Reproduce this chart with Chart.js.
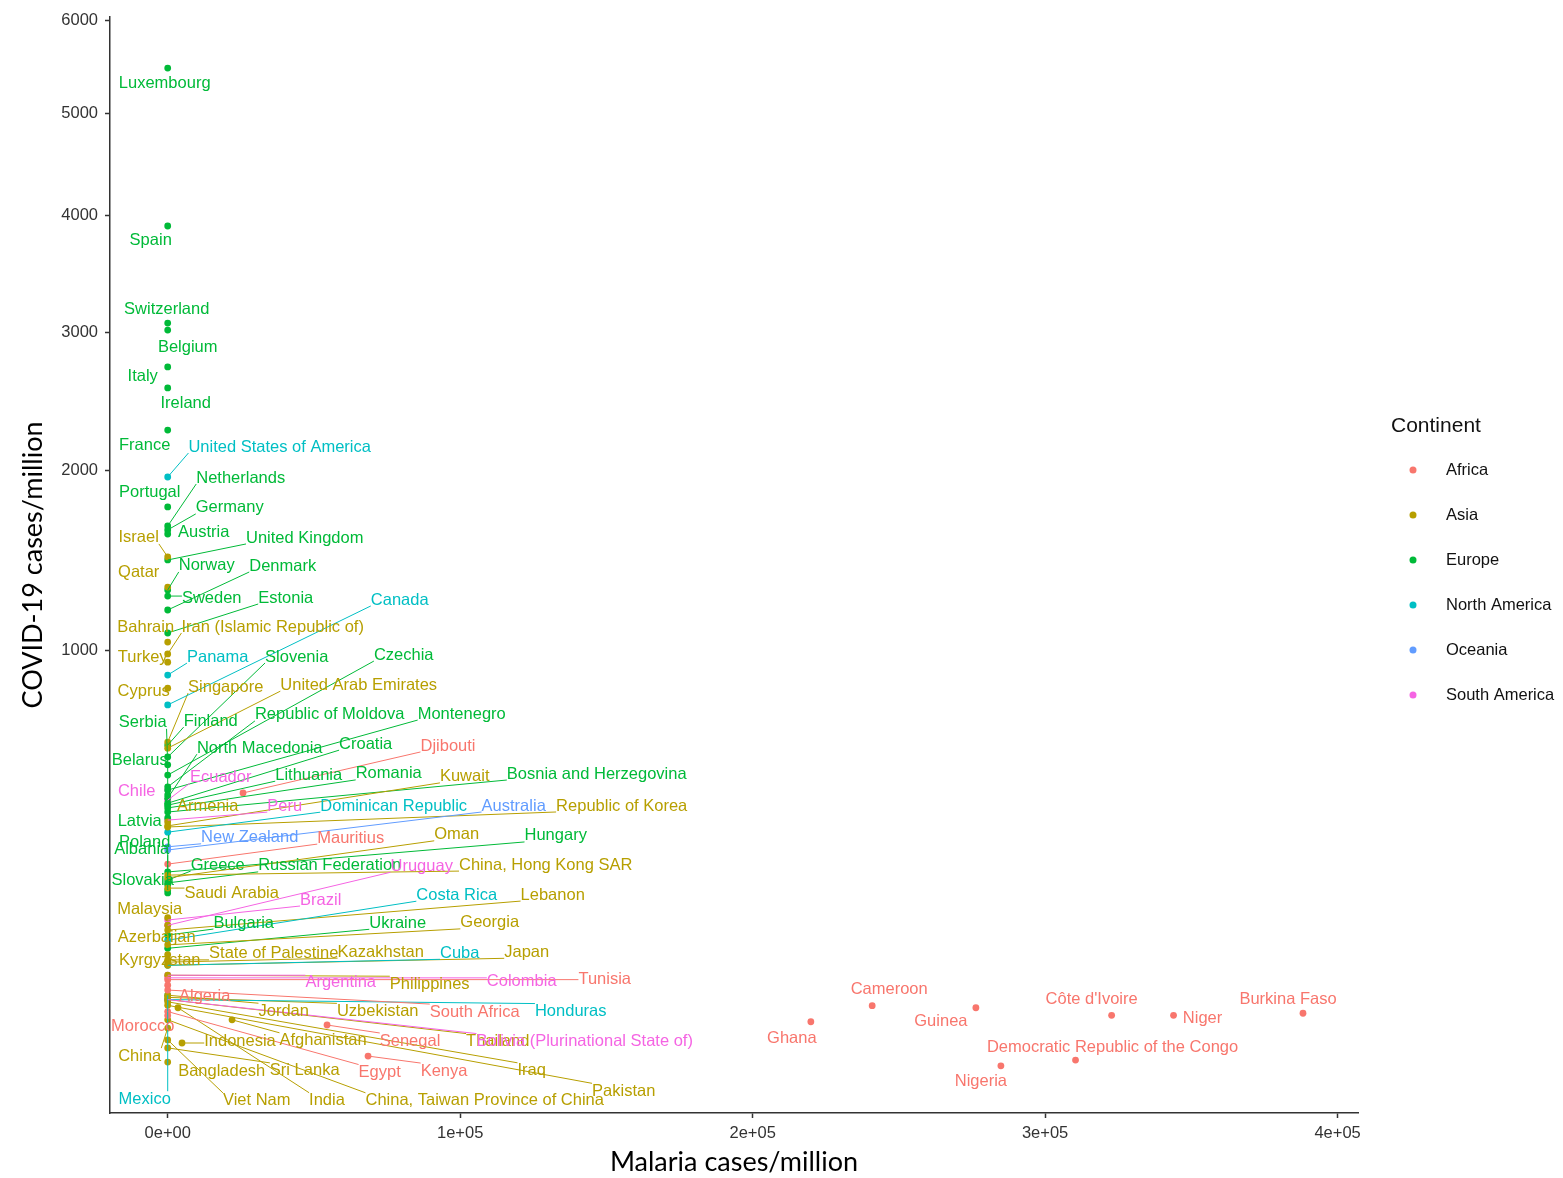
<!DOCTYPE html>
<html>
<head>
<meta charset="utf-8">
<script src="https://cdn.jsdelivr.net/npm/chart.js@4.4.1/dist/chart.umd.min.js"></script>
<style>
  html, body { margin: 0; padding: 0; background: #fff; }
  canvas { display: block; }
</style>
</head>
<body>
<canvas id="malariaChart" width="1563" height="1178"></canvas>
<script>
const continentNames = ['Africa', 'Asia', 'Europe', 'North America', 'Oceania', 'South America'];
const continentColors = ['#F8766D', '#B79F00', '#00BA38', '#00BFC4', '#619CFF', '#F564E3'];

const xTicks = [0, 100000, 200000, 300000, 400000];
const yTicks = [1000, 2000, 3000, 4000, 5000, 6000];

const countries = [
    'Luxembourg', 'Spain', 'Switzerland', 'Belgium', 'Italy', 'Ireland', 'France', 'Portugal',
    'Netherlands', 'Germany', 'Austria', 'United Kingdom', 'Norway', 'Sweden', 'Denmark', 'Estonia',
    'Slovenia', 'Czechia', 'Serbia', 'Finland', 'Republic of Moldova', 'Montenegro', 'Belarus',
    'North Macedonia', 'Croatia', 'Lithuania', 'Romania', 'Bosnia and Herzegovina', 'Latvia',
    'Poland', 'Albania', 'Hungary', 'Greece', 'Russian Federation', 'Slovakia', 'Bulgaria', 'Ukraine',
    'Israel', 'Qatar', 'Bahrain', 'Iran (Islamic Republic of)', 'Turkey', 'Cyprus', 'Singapore',
    'United Arab Emirates', 'Armenia', 'Kuwait', 'Republic of Korea', 'Oman', 'China, Hong Kong SAR',
    'Saudi Arabia', 'Malaysia', 'Lebanon', 'Georgia', 'Azerbaijan', 'Kazakhstan', 'Japan',
    'Kyrgyzstan', 'State of Palestine', 'Philippines', 'Jordan', 'Uzbekistan', 'Indonesia',
    'Afghanistan', 'Thailand', 'China', 'Bangladesh', 'Sri Lanka', 'Iraq', 'Viet Nam', 'India',
    'China, Taiwan Province of China', 'Pakistan',
    'United States of America', 'Canada', 'Panama', 'Dominican Republic', 'Costa Rica', 'Cuba',
    'Honduras', 'Mexico',
    'New Zealand', 'Australia',
    'Ecuador', 'Chile', 'Peru', 'Uruguay', 'Brazil', 'Argentina', 'Colombia',
    'Bolivia (Plurinational State of)',
    'Djibouti', 'Mauritius', 'Algeria', 'South Africa', 'Tunisia', 'Morocco', 'Senegal', 'Egypt',
    'Kenya', 'Ghana', 'Cameroon', 'Guinea', "Côte d'Ivoire", 'Niger', 'Burkina Faso',
    'Democratic Republic of the Congo', 'Nigeria'
];

const continent = [
    ...Array(37).fill('Europe'),
    ...Array(36).fill('Asia'),
    ...Array(8).fill('North America'),
    ...Array(2).fill('Oceania'),
    ...Array(8).fill('South America'),
    ...Array(17).fill('Africa')
];

// malaria cases per million
const malaria = [
    0, 0, 0, 0, 0, 0, 0, 0,
    0, 0, 0, 0, 0, 0, 0, 0,
    0, 0, 0, 0, 0, 0, 0,
    0, 0, 0, 0, 0, 0,
    0, 0, 0, 0, 0, 0, 0, 0,
    0, 0, 0, 0, 0, 0, 0,
    0, 0, 0, 0, 0, 0,
    0, 0, 0, 0, 0, 0, 0,
    0, 0, 0, 0, 0, 4890,
    22000, 0, 0, 0, 0, 0, 0, 3520,
    0, 0,
    0, 0, 0, 0, 0, 0,
    0, 0,
    0, 0,
    0, 0, 0, 0, 0, 0, 0,
    0,
    25750, 0, 0, 0, 0, 0, 54480, 0,
    68500, 219900, 240870, 276330, 322740, 343910, 388170,
    310400, 284880
];

// COVID-19 cases per million
const covid = [
    5478, 3907, 3073, 3017, 2729, 2572, 2270, 1768,
    1653, 1630, 1606, 1458, 1296, 1264, 1193, 1080,
    568, 507, 541, 610, 469, 459, 444,
    434, 419, 413, 405, 393, 376,
    211, 200, 239, 221, 215, 194, 118, 98,
    1475, 1311, 1037, 982, 945, 832, 621,
    599, 365, 354, 351, 226, 232,
    204, 147, 126, 103, 134, 79, 75,
    89, 82, 63, 42, 40, 9.0,
    22, 38, 16.7, 2.6, 7.0, 36, 10.4, 31,
    22, 33,
    1956, 763, 888, 337, 110, 75,
    38, 42,
    299, 291,
    428, 459, 370, 134, 143, 63, 60,
    38,
    450, 257, 52, 47, 58, 25, 18.6, 28,
    4.2, 20.7, 32.7, 31.0, 25.2, 25.2, 26.7,
    3.1, 1.8
];

// where each repelled label sits relative to its point, in pixels
const labelNudge = [
    [-3, 14], [-17, 13], [-1, -15], [20, 16], [-25, 8], [18, 15], [-23, 14], [-18, -15],
    [73, -49], [62, -23], [36, -3], [137, -23], [39, -25], [44, 1], [115, -45], [118, -36],
    [129, -101], [236, -121], [-25, -43], [43, -25], [162, -73], [294, -77], [-28, -35],
    [92, -51], [198, -60], [141, -31], [221, -35], [429, -39], [-28, 2],
    [-23, -43], [-26, -42], [388, -37], [50, -16], [162, -18], [-25, -14], [76, -13], [230, -26],
    [-29, -20], [-29, -16], [-22, -16], [105, -28], [-25, -6], [-24, 2], [58, -56],
    [191, -64], [40, -16], [297, -50], [454, -22], [289, -44], [378, -11],
    [64, 4], [-18, -9], [385, -36], [322, -23], [-11, 11], [213, -11], [359, -14],
    [-8, 5], [106, -7], [262, 8], [116, 15], [210, 13], [58, -3],
    [91, 20], [330, 41], [-28, 27], [54, 8], [137, 22], [364, 68], [89, 60], [149, 92],
    [317, 80], [456, 85],
    [112, -31], [232, -106], [50, -19], [226, -27], [289, -46], [292, -13],
    [403, 11], [-23, 103],
    [82, -10], [346, -45],
    [53, -24], [-31, 0], [117, -15], [254, -60], [153, -21], [173, 6], [354, 3],
    [417, 41],
    [205, -48], [183, -27], [37, 10], [307, 21], [437, -1], [-25, 10], [83, 15], [212, 60],
    [76, 14], [-19, 16], [17, -17], [-35, 13], [-20, -17], [29, 2], [-15, -15],
    [37, -14], [-20, 15]
];

const LABEL_FONT = '16.5px "Liberation Sans", Arial, sans-serif';
const TICK_FONT = { family: '"Liberation Sans", Arial, sans-serif', size: 16.5 };

const tf = (v) => Math.sign(v) * Math.sqrt(Math.abs(v));

class SqrtScale extends Chart.LinearScale {
    static id = 'sqrt';
    static defaults = {};

    configure() {
        super.configure();
        this._tStart = tf(this.min);
        this._tRange = tf(this.max) - this._tStart;
    }

    getPixelForValue(value) {
        if (value === null || value === undefined) return NaN;
        return this.getPixelForDecimal((tf(value) - this._tStart) / this._tRange);
    }

    getValueForPixel(pixel) {
        const t = this._tStart + this.getDecimalForPixel(pixel) * this._tRange;
        return Math.sign(t) * t * t;
    }
}
Chart.register(SqrtScale);

const colorOf = (name) => continentColors[continentNames.indexOf(name)];

const repelLabels = {
    id: 'repelLabels',
    afterDatasetsDraw(chart) {
        const { ctx, scales: { x, y } } = chart;
        ctx.save();
        ctx.font = LABEL_FONT;
        ctx.lineWidth = 1;
        const spots = countries.map((name, i) => {
            const px = x.getPixelForValue(malaria[i]);
            const py = y.getPixelForValue(covid[i]);
            const lx = px + labelNudge[i][0];
            const ly = py + labelNudge[i][1];
            return { name, px, py, lx, ly, w: ctx.measureText(name).width / 2, col: colorOf(continent[i]) };
        });
        // segments first
        spots.forEach(s => {
            const cx = Math.min(Math.max(s.px, s.lx - s.w), s.lx + s.w);
            const cy = Math.min(Math.max(s.py, s.ly - 7), s.ly + 7);
            if (Math.hypot(cx - s.px, cy - s.py) > 14) {
                ctx.strokeStyle = s.col;
                ctx.beginPath();
                ctx.moveTo(s.px, s.py);
                ctx.lineTo(cx, cy);
                ctx.stroke();
            }
        });
        ctx.textAlign = 'center';
        ctx.textBaseline = 'middle';
        spots.forEach(s => {
            ctx.fillStyle = s.col;
            ctx.fillText(s.name, s.lx, s.ly + 1);
        });
        ctx.restore();
    }
};

const sideLegend = {
    id: 'sideLegend',
    afterDraw(chart) {
        const ctx = chart.ctx;
        ctx.save();
        ctx.textBaseline = 'middle';
        ctx.textAlign = 'left';
        ctx.fillStyle = '#111';
        ctx.font = '21px "Liberation Sans", Arial, sans-serif';
        ctx.fillText('Continent', 1391, 426);
        ctx.font = '16.5px "Liberation Sans", Arial, sans-serif';
        chart.data.datasets.forEach((ds, k) => {
            const yy = 470 + k * 45;
            ctx.fillStyle = ds.backgroundColor;
            ctx.beginPath();
            ctx.arc(1413, yy, 3.5, 0, Math.PI * 2);
            ctx.fill();
            ctx.fillStyle = '#111';
            ctx.fillText(ds.label, 1446, yy);
        });
        ctx.restore();
    }
};

function buildDatasets() {
    return continentNames.map((name, k) => ({
        label: name,
        data: countries
            .map((c, i) => ({ x: malaria[i], y: covid[i], c: continent[i] }))
            .filter(p => p.c === name),
        backgroundColor: continentColors[k],
        borderWidth: 0,
        pointRadius: 3.4,
        pointHoverRadius: 3.4
    }));
}

const axisGrid = {
    drawOnChartArea: false,
    drawTicks: true,
    tickLength: 5,
    tickWidth: 1.5,
    tickColor: '#333'
};

new Chart(document.getElementById('malariaChart').getContext('2d'), {
    type: 'scatter',
    data: { datasets: buildDatasets() },
    options: {
        responsive: false,
        animation: false,
        devicePixelRatio: 1,
        events: [],
        layout: { padding: { top: 17, right: 205, bottom: 0, left: 0 } },
        plugins: {
            legend: { display: false },
            tooltip: { enabled: false }
        },
        scales: {
            x: {
                type: 'linear',
                min: -19730,
                max: 406980,
                bounds: 'data',
                afterBuildTicks: (s) => { s.ticks = xTicks.map(v => ({ value: v })); },
                afterFit: (s) => { s.height = 65; },
                grid: axisGrid,
                border: { display: true, color: '#333', width: 1.5 },
                ticks: {
                    font: TICK_FONT,
                    color: '#333',
                    padding: 6,
                    maxRotation: 0,
                    autoSkip: false,
                    callback: (v) => v === 0 ? '0e+00' : (v / 100000) + 'e+05'
                },
                title: {
                    display: true,
                    text: 'Malaria cases/million',
                    color: '#000',
                    font: { family: 'Lato, "Open Sans", sans-serif', size: 27 },
                    padding: { top: 0, bottom: 0 }
                }
            },
            y: {
                type: 'sqrt',
                min: -4.4,
                max: 6042,
                bounds: 'data',
                afterBuildTicks: (s) => { s.ticks = yTicks.map(v => ({ value: v })); },
                afterFit: (s) => { s.width = 110; },
                grid: axisGrid,
                border: { display: true, color: '#333', width: 1.5 },
                ticks: {
                    font: TICK_FONT,
                    color: '#333',
                    padding: 7,
                    autoSkip: false,
                    callback: (v) => String(v)
                },
                title: {
                    display: true,
                    text: 'COVID-19 cases/million',
                    color: '#000',
                    font: { family: 'Lato, "Open Sans", sans-serif', size: 27 },
                    padding: { top: 17, bottom: 0 }
                }
            }
        }
    },
    plugins: [repelLabels, sideLegend]
});
</script>
</body>
</html>
